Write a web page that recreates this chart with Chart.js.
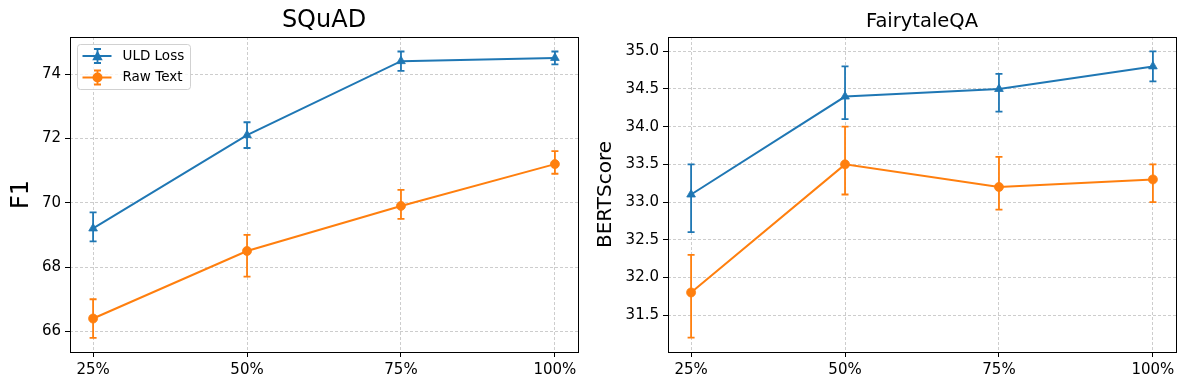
<!DOCTYPE html>
<html lang="en">
<head>
    <meta charset="UTF-8">
    <title>SQuAD / FairytaleQA</title>
    <script src="https://cdn.jsdelivr.net/npm/chart.js"></script>
    <style>
        body { margin: 0; background: #fff; }
        #wrap { position: relative; width: 1186px; height: 390px; }
        canvas { position: absolute; top: 0; }
        #squad { left: 0; }
        #fairy { left: 593px; }
    </style>
</head>
<body>
    <div id="wrap">
        <canvas id="squad" width="593" height="390"></canvas>
        <canvas id="fairy" width="593" height="390"></canvas>
    </div>

    <script>
        const categories = ['25%', '50%', '75%', '100%'];
        const seriesNames = ['ULD Loss', 'Raw Text'];

        // SQuAD (F1)
        const squadUld = [69.2, 72.1, 74.4, 74.5];
        const squadUldLow = [68.8, 71.7, 74.1, 74.3];
        const squadUldHigh = [69.7, 72.5, 74.7, 74.7];
        const squadRaw = [66.4, 68.5, 69.9, 71.2];
        const squadRawLow = [65.8, 67.7, 69.5, 70.9];
        const squadRawHigh = [67.0, 69.0, 70.4, 71.6];
        const squadTicks = [66, 68, 70, 72, 74];

        // FairytaleQA (BERTScore)
        const fairyUld = [33.1, 34.4, 34.5, 34.8];
        const fairyUldLow = [32.6, 34.1, 34.2, 34.6];
        const fairyUldHigh = [33.5, 34.8, 34.7, 35.0];
        const fairyRaw = [31.8, 33.5, 33.2, 33.3];
        const fairyRawLow = [31.2, 33.1, 32.9, 33.0];
        const fairyRawHigh = [32.3, 34.0, 33.6, 33.5];
        const fairyTicks = [31.5, 32.0, 32.5, 33.0, 33.5, 34.0, 34.5, 35.0];

        const BLUE = '#1f77b4';
        const ORANGE = '#ff7f0e';
        const FONT = 'DejaVu Sans';

        function drawMarker(ctx, style, x, y, r) {
            ctx.beginPath();
            if (style === 'triangle') {
                ctx.moveTo(x, y - r);
                ctx.lineTo(x + r * 0.95, y + r * 0.75);
                ctx.lineTo(x - r * 0.95, y + r * 0.75);
                ctx.closePath();
            } else {
                ctx.arc(x, y, r, 0, Math.PI * 2);
            }
            ctx.fill();
        }

        // vertical error bars with caps, positioned through the y scale
        const errorBars = {
            id: 'errorBars',
            beforeDatasetsDraw(chart) {
                const ctx = chart.ctx;
                const yScale = chart.scales.y;
                chart.data.datasets.forEach((ds, i) => {
                    const meta = chart.getDatasetMeta(i);
                    ctx.save();
                    ctx.strokeStyle = ds.borderColor;
                    ctx.lineWidth = 1.8;
                    meta.data.forEach((pt, j) => {
                        const yLo = yScale.getPixelForValue(ds.errLow[j]);
                        const yHi = yScale.getPixelForValue(ds.errHigh[j]);
                        ctx.beginPath();
                        ctx.moveTo(pt.x, yLo);
                        ctx.lineTo(pt.x, yHi);
                        ctx.moveTo(pt.x - 3.5, yLo);
                        ctx.lineTo(pt.x + 3.5, yLo);
                        ctx.moveTo(pt.x - 3.5, yHi);
                        ctx.lineTo(pt.x + 3.5, yHi);
                        ctx.stroke();
                    });
                    ctx.restore();
                });
            }
        };

        // full box around the plot area + title centred on the plot
        const frame = {
            id: 'frame',
            afterDatasetsDraw(chart, args, opts) {
                const {ctx, chartArea: a} = chart;
                ctx.save();
                ctx.strokeStyle = '#000';
                ctx.lineWidth = 1;
                ctx.strokeRect(Math.round(a.left) + 0.5, Math.round(a.top) + 0.5,
                    Math.round(a.right - a.left), Math.round(a.bottom - a.top));
                ctx.fillStyle = '#000';
                ctx.font = opts.size + 'px "' + FONT + '"';
                ctx.textAlign = 'center';
                ctx.textBaseline = 'middle';
                ctx.fillText(opts.text, (a.left + a.right) / 2, opts.y);
                ctx.restore();
            }
        };

        // matplotlib-like legend in the upper-left corner
        const legendBox = {
            id: 'legendBox',
            afterDraw(chart, args, opts) {
                if (!opts.show) return;
                const {ctx, chartArea: a} = chart;
                const x0 = a.left + 7.5, y0 = a.top + 7.5, w = 113, h = 45;
                ctx.save();
                ctx.beginPath();
                ctx.roundRect(x0, y0, w, h, 3);
                ctx.fillStyle = 'rgba(255,255,255,0.8)';
                ctx.fill();
                ctx.strokeStyle = 'rgba(204,204,204,0.9)';
                ctx.lineWidth = 1;
                ctx.stroke();
                chart.data.datasets.forEach((ds, i) => {
                    const cy = y0 + 11.5 + i * 21.5;
                    const cx = x0 + 20;
                    ctx.strokeStyle = ds.borderColor;
                    ctx.fillStyle = ds.borderColor;
                    ctx.lineWidth = 2;
                    ctx.beginPath();
                    ctx.moveTo(x0 + 5, cy);
                    ctx.lineTo(x0 + 34, cy);
                    ctx.stroke();
                    ctx.lineWidth = 1.8;
                    ctx.beginPath();
                    ctx.moveTo(cx, cy - 7);
                    ctx.lineTo(cx, cy + 7);
                    ctx.moveTo(cx - 3.5, cy - 7);
                    ctx.lineTo(cx + 3.5, cy - 7);
                    ctx.moveTo(cx - 3.5, cy + 7);
                    ctx.lineTo(cx + 3.5, cy + 7);
                    ctx.stroke();
                    drawMarker(ctx, ds.pointStyle, cx, cy, ds.pointStyle === 'triangle' ? 5.5 : 5);
                    ctx.fillStyle = '#000';
                    ctx.font = '13.5px "' + FONT + '"';
                    ctx.textAlign = 'left';
                    ctx.textBaseline = 'middle';
                    ctx.fillText(ds.label, x0 + 45, cy);
                });
                ctx.restore();
            }
        };

        function series(label, values, low, high, color, style) {
            return {
                label: label,
                data: values.map((v, i) => ({x: i, y: v})),
                errLow: low,
                errHigh: high,
                borderColor: color,
                backgroundColor: color,
                borderWidth: 2,
                tension: 0,
                fill: false,
                pointStyle: style,
                pointRadius: style === 'triangle' ? 5 : 4.5,
                pointBorderWidth: 0.8,
                pointHoverRadius: 5,
            };
        }

        function makeChart(id, cfg) {
            const gridStyle = {
                color: 'rgba(176,176,176,0.9)',
                lineWidth: 0.7,
                tickColor: '#000',
                tickLength: 5,
                tickWidth: 1,
                tickBorderDash: [],
            };
            return new Chart(document.getElementById(id).getContext('2d'), {
                type: 'line',
                data: { datasets: cfg.datasets },
                options: {
                    responsive: false,
                    animation: false,
                    layout: { padding: { left: 0, right: cfg.padRight, top: 37, bottom: 0 } },
                    plugins: {
                        legend: { display: false },
                        tooltip: { enabled: false },
                        title: { display: false },
                        frame: { text: cfg.title, size: cfg.titleSize, y: cfg.titleY },
                        legendBox: { show: cfg.legend },
                    },
                    scales: {
                        x: {
                            type: 'linear',
                            min: -0.15,
                            max: 3.15,
                            afterBuildTicks: s => { s.ticks = categories.map((c, i) => ({value: i})); },
                            afterFit: s => { s.height = 38; },
                            ticks: {
                                color: '#000',
                                padding: 4,
                                maxRotation: 0,
                                font: { family: FONT, size: 15 },
                                callback: v => categories[v],
                            },
                            grid: gridStyle,
                            border: { display: false, dash: [3, 2] },
                        },
                        y: {
                            type: 'linear',
                            min: cfg.yMin,
                            max: cfg.yMax,
                            afterBuildTicks: s => { s.ticks = cfg.yTicks.map(v => ({value: v})); },
                            afterFit: s => { s.width = cfg.yWidth; },
                            ticks: {
                                color: '#000',
                                padding: 4,
                                font: { family: FONT, size: 15 },
                                callback: v => v.toFixed(cfg.decimals),
                            },
                            title: {
                                display: true,
                                text: cfg.yLabel,
                                color: '#000',
                                font: { family: FONT, size: cfg.yLabelSize },
                                padding: { top: cfg.yLabelPad, bottom: 0 },
                            },
                            grid: gridStyle,
                            border: { display: false, dash: [3, 2] },
                        },
                    },
                },
                plugins: [errorBars, frame, legendBox],
            });
        }

        makeChart('squad', {
            title: 'SQuAD',
            titleSize: 24,
            titleY: 20.5,
            yLabel: 'F1',
            yLabelSize: 24,
            yLabelPad: 7.5,
            yMin: 65.36,
            yMax: 75.15,
            yTicks: squadTicks,
            decimals: 0,
            yWidth: 70,
            padRight: 15,
            legend: true,
            datasets: [
                series(seriesNames[0], squadUld, squadUldLow, squadUldHigh, BLUE, 'triangle'),
                series(seriesNames[1], squadRaw, squadRawLow, squadRawHigh, ORANGE, 'circle'),
            ],
        });

        makeChart('fairy', {
            title: 'FairytaleQA',
            titleSize: 19.5,
            titleY: 22,
            yLabel: 'BERTScore',
            yLabelSize: 20,
            yLabelPad: 0.5,
            yMin: 31.01,
            yMax: 35.19,
            yTicks: fairyTicks,
            decimals: 1,
            yWidth: 75,
            padRight: 10,
            legend: false,
            datasets: [
                series(seriesNames[0], fairyUld, fairyUldLow, fairyUldHigh, BLUE, 'triangle'),
                series(seriesNames[1], fairyRaw, fairyRawLow, fairyRawHigh, ORANGE, 'circle'),
            ],
        });
    </script>
</body>
</html>
